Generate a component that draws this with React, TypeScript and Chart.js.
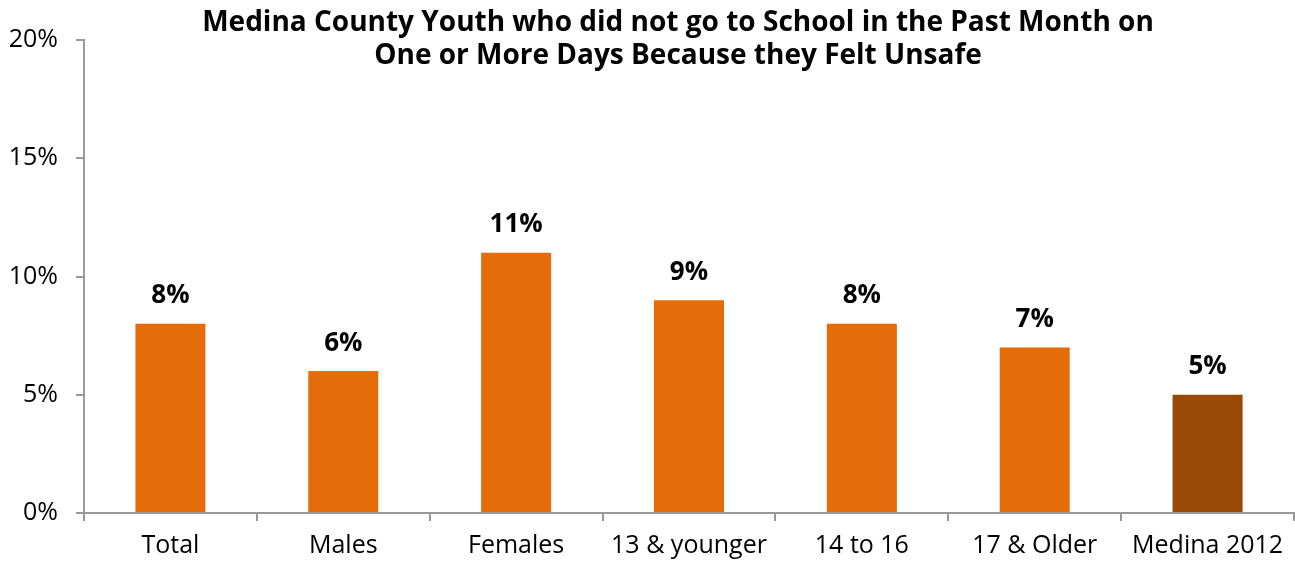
import React, { useEffect, useRef } from "react";
import { Chart, registerables } from "chart.js";

Chart.register(...registerables);

const categories = ["Total", "Males", "Females", "13 & younger", "14 to 16", "17 & Older", "Medina 2012"];
const values = [8, 6, 11, 9, 8, 7, 5];
const barColors = ["#E46C0A", "#E46C0A", "#E46C0A", "#E46C0A", "#E46C0A", "#E46C0A", "#984807"];
const titleLines = [
  "Medina County Youth who did not go to School in the Past Month on",
  "One or More Days Because they Felt Unsafe",
];
const yTicks = [0, 5, 10, 15, 20];

const FONT = "'Open Sans', 'Noto Sans', sans-serif";

export default function App() {
  const ref = useRef<HTMLCanvasElement>(null);
  useEffect(() => {
    document.body.style.margin = "0";
    const canvas = ref.current!;
    const overlay = {
      id: "overlay",
      afterDraw(chart: any) {
        const ctx = chart.ctx;
        ctx.save();
        ctx.fillStyle = "#000";
        ctx.textAlign = "center";
        ctx.textBaseline = "middle";
        ctx.font = `bold 28px ${FONT}`;
        const cx = 678;
        ctx.fillText(titleLines[0], cx, 23, 960);
        ctx.fillText(titleLines[1], cx, 56, 960);
        ctx.font = `bold 26px ${FONT}`;
        const meta = chart.getDatasetMeta(0);
        meta.data.forEach((bar: any, i: number) => {
          ctx.fillText(values[i] + "%", bar.x, bar.y - 28);
        });
        ctx.restore();
      },
    };
    const chart = new Chart(canvas, {
      type: "bar",
      data: {
        labels: categories,
        datasets: [
          {
            data: values,
            backgroundColor: barColors,
            barPercentage: 0.81,
            categoryPercentage: 0.5,
          },
        ],
      },
      options: {
        responsive: false,
        animation: false,
        devicePixelRatio: 1,
        layout: { padding: { top: 40, right: 1, left: 0, bottom: 0 } },
        plugins: { legend: { display: false }, title: { display: false }, tooltip: { enabled: false } },
        scales: {
          x: {
            grid: { display: true, offset: true, drawOnChartArea: false, tickLength: 8, color: "#999", lineWidth: 2 },
            border: { display: true, color: "#999", width: 2 },
            ticks: { color: "#000", font: { family: FONT, size: 25 }, padding: 10, maxRotation: 0, autoSkip: false },
            afterFit(scale: any) {
              scale.height = 48;
            },
          },
          y: {
            min: 0,
            max: 20,
            afterBuildTicks(scale: any) {
              scale.ticks = yTicks.map((v) => ({ value: v }));
            },
            grid: { display: true, drawOnChartArea: false, tickLength: 8, color: "#999", lineWidth: 2 },
            border: { display: true, color: "#999", width: 2 },
            ticks: {
              color: "#000",
              font: { family: FONT, size: 25 },
              padding: 18,
              callback: (v: any) => v + "%",
            },
            afterFit(scale: any) {
              scale.width = 84;
            },
          },
        },
      },
      plugins: [overlay],
    });
    return () => chart.destroy();
  }, []);
  return <canvas ref={ref} width={1295} height={561} style={{ display: "block" }} />;
}
